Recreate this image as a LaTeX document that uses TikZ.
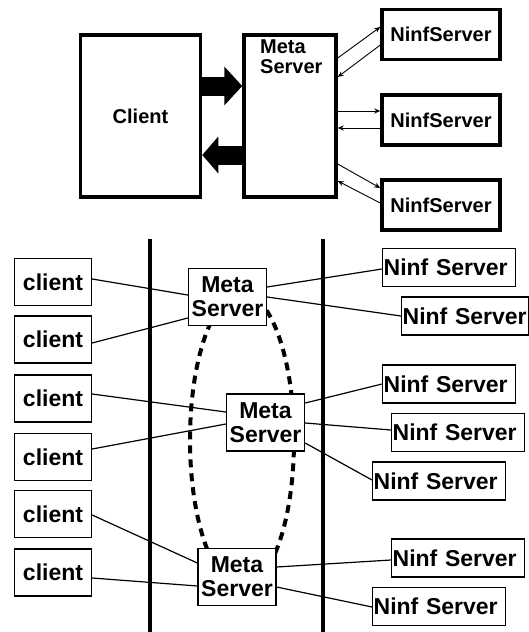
\documentclass[tikz,border=0pt]{standalone}
\usepackage{fontspec}
\setmainfont{Liberation Sans}
\usetikzlibrary{arrows.meta}

\begin{document}
\begin{tikzpicture}[x=1pt, y=-1pt,
    bigbox/.style={draw, line width=3.5pt, fill=white, inner sep=0pt, font=\fontsize{20}{20}\selectfont\bfseries},
    ninf/.style={bigbox, minimum width=118pt, minimum height=50pt},
    box/.style={draw, line width=1.3pt, fill=white, inner sep=1pt, font=\fontsize{23}{24}\selectfont\bfseries},
    cl/.style={box, minimum width=77pt, minimum height=47pt},
    ms/.style={box, minimum width=78pt, minimum height=57pt, align=center},
    ns/.style={box, anchor=west, text width=131pt, align=left, minimum height=38pt},
    fat/.style={line width=19pt},
    smallarrow/.style={line width=0.9pt, -{Stealth[length=6pt, width=5pt]}},
    wall/.style={line width=4.5pt},
    ring/.style={line width=4pt, dash pattern=on 8pt off 6pt}]
        \useasboundingbox (0,0) rectangle (529,632);

        % upper part
        \node[bigbox, minimum width=120pt, minimum height=162pt] (client) at (140.5,116) {Client};
        \node[bigbox, minimum width=92pt, minimum height=162pt] (meta) at (290,116) {};
        \node[anchor=north west, align=left, inner sep=0pt, font=\fontsize{20}{20}\selectfont\bfseries] (metatext) at (260,40) {Meta\\Server};

        \node[ninf] (n1) at (441,34.5) {NinfServer};
        \node[ninf] (n2) at (441,120) {NinfServer};
        \node[ninf] (n3) at (441,205) {NinfServer};

        \draw[fat, -{Triangle[length=18pt, width=38pt]}] (client.east |- 0,86) -- (meta.west |- 0,86);
        \draw[fat, -{Triangle[length=16pt, width=36pt]}] (meta.west |- 0,155) -- (client.east |- 0,155);

        \draw[smallarrow] (meta.east |- 0,58) -- (n1.west |- 0,27);
        \draw[smallarrow] (n1.west |- 0,45) -- (meta.east |- 0,77);
        \draw[smallarrow] (meta.east |- 0,111) -- (n2.west |- 0,111);
        \draw[smallarrow] (n2.west |- 0,128) -- (meta.east |- 0,128);
        \draw[smallarrow] (meta.east |- 0,164) -- (n3.west |- 0,188);
        \draw[smallarrow] (n3.west |- 0,203) -- (meta.east |- 0,181);

        % lower part
        \draw[wall] (150,239) -- (150,632);
        \draw[wall] (323,239) -- (323,632);
        \draw[ring] (242,440) ellipse [x radius=52pt, y radius=147pt];

        \node[cl] (c1) at (53,282) {client};
        \node[cl] (c2) at (53,339.5) {client};
        \node[cl] (c3) at (53,398.5) {client};
        \node[cl] (c4) at (53,457) {client};
        \node[cl] (c5) at (53,514) {client};
        \node[cl] (c6) at (53,572.5) {client};

        \node[ms] (m1) at (227.5,297) {Meta\\Server};
        \node[ms] (m2) at (265.5,422.5) {Meta\\Server};
        \node[ms] (m3) at (237,577) {Meta\\Server};

        \node[ns] (s1) at (382,267.5) {Ninf Server};
        \node[ns, text width=125pt] (s2) at (401,316) {Ninf Server};
        \node[ns] (s3) at (382,384) {Ninf Server};
        \node[ns] (s4) at (391,432.5) {Ninf Server};
        \node[ns] (s5) at (372,481) {Ninf Server};
        \node[ns] (s6) at (391,558) {Ninf Server};
        \node[ns] (s7) at (372,606.5) {Ninf Server};

        \draw[line width=1.2pt] (c1.east |- 0,279) -- (m1.west |- 0,295);
        \draw[line width=1.2pt] (c2.east |- 0,343) -- (m1.west |- 0,318);
        \draw[line width=1.2pt] (c3.east |- 0,394) -- (m2.west |- 0,412);
        \draw[line width=1.2pt] (c4.east |- 0,449) -- (m2.west |- 0,424);
        \draw[line width=1.2pt] (c5.east |- 0,515) -- (m3.west |- 0,563);
        \draw[line width=1.2pt] (c6.east |- 0,578) -- (m3.west |- 0,586);

        \draw[line width=1.2pt] (m1.east |- 0,287) -- (s1.west |- 0,269);
        \draw[line width=1.2pt] (m1.east |- 0,297) -- (s2.west |- 0,316);
        \draw[line width=1.2pt] (m2.east |- 0,403) -- (s3.west |- 0,384);
        \draw[line width=1.2pt] (m2.east |- 0,423) -- (s4.west |- 0,430);
        \draw[line width=1.2pt] (m2.east |- 0,443) -- (s5.west |- 0,480);
        \draw[line width=1.2pt] (m3.east |- 0,567) -- (s6.west |- 0,560);
        \draw[line width=1.2pt] (m3.east |- 0,587) -- (s7.west |- 0,607);
    \end{tikzpicture}
\end{document}
